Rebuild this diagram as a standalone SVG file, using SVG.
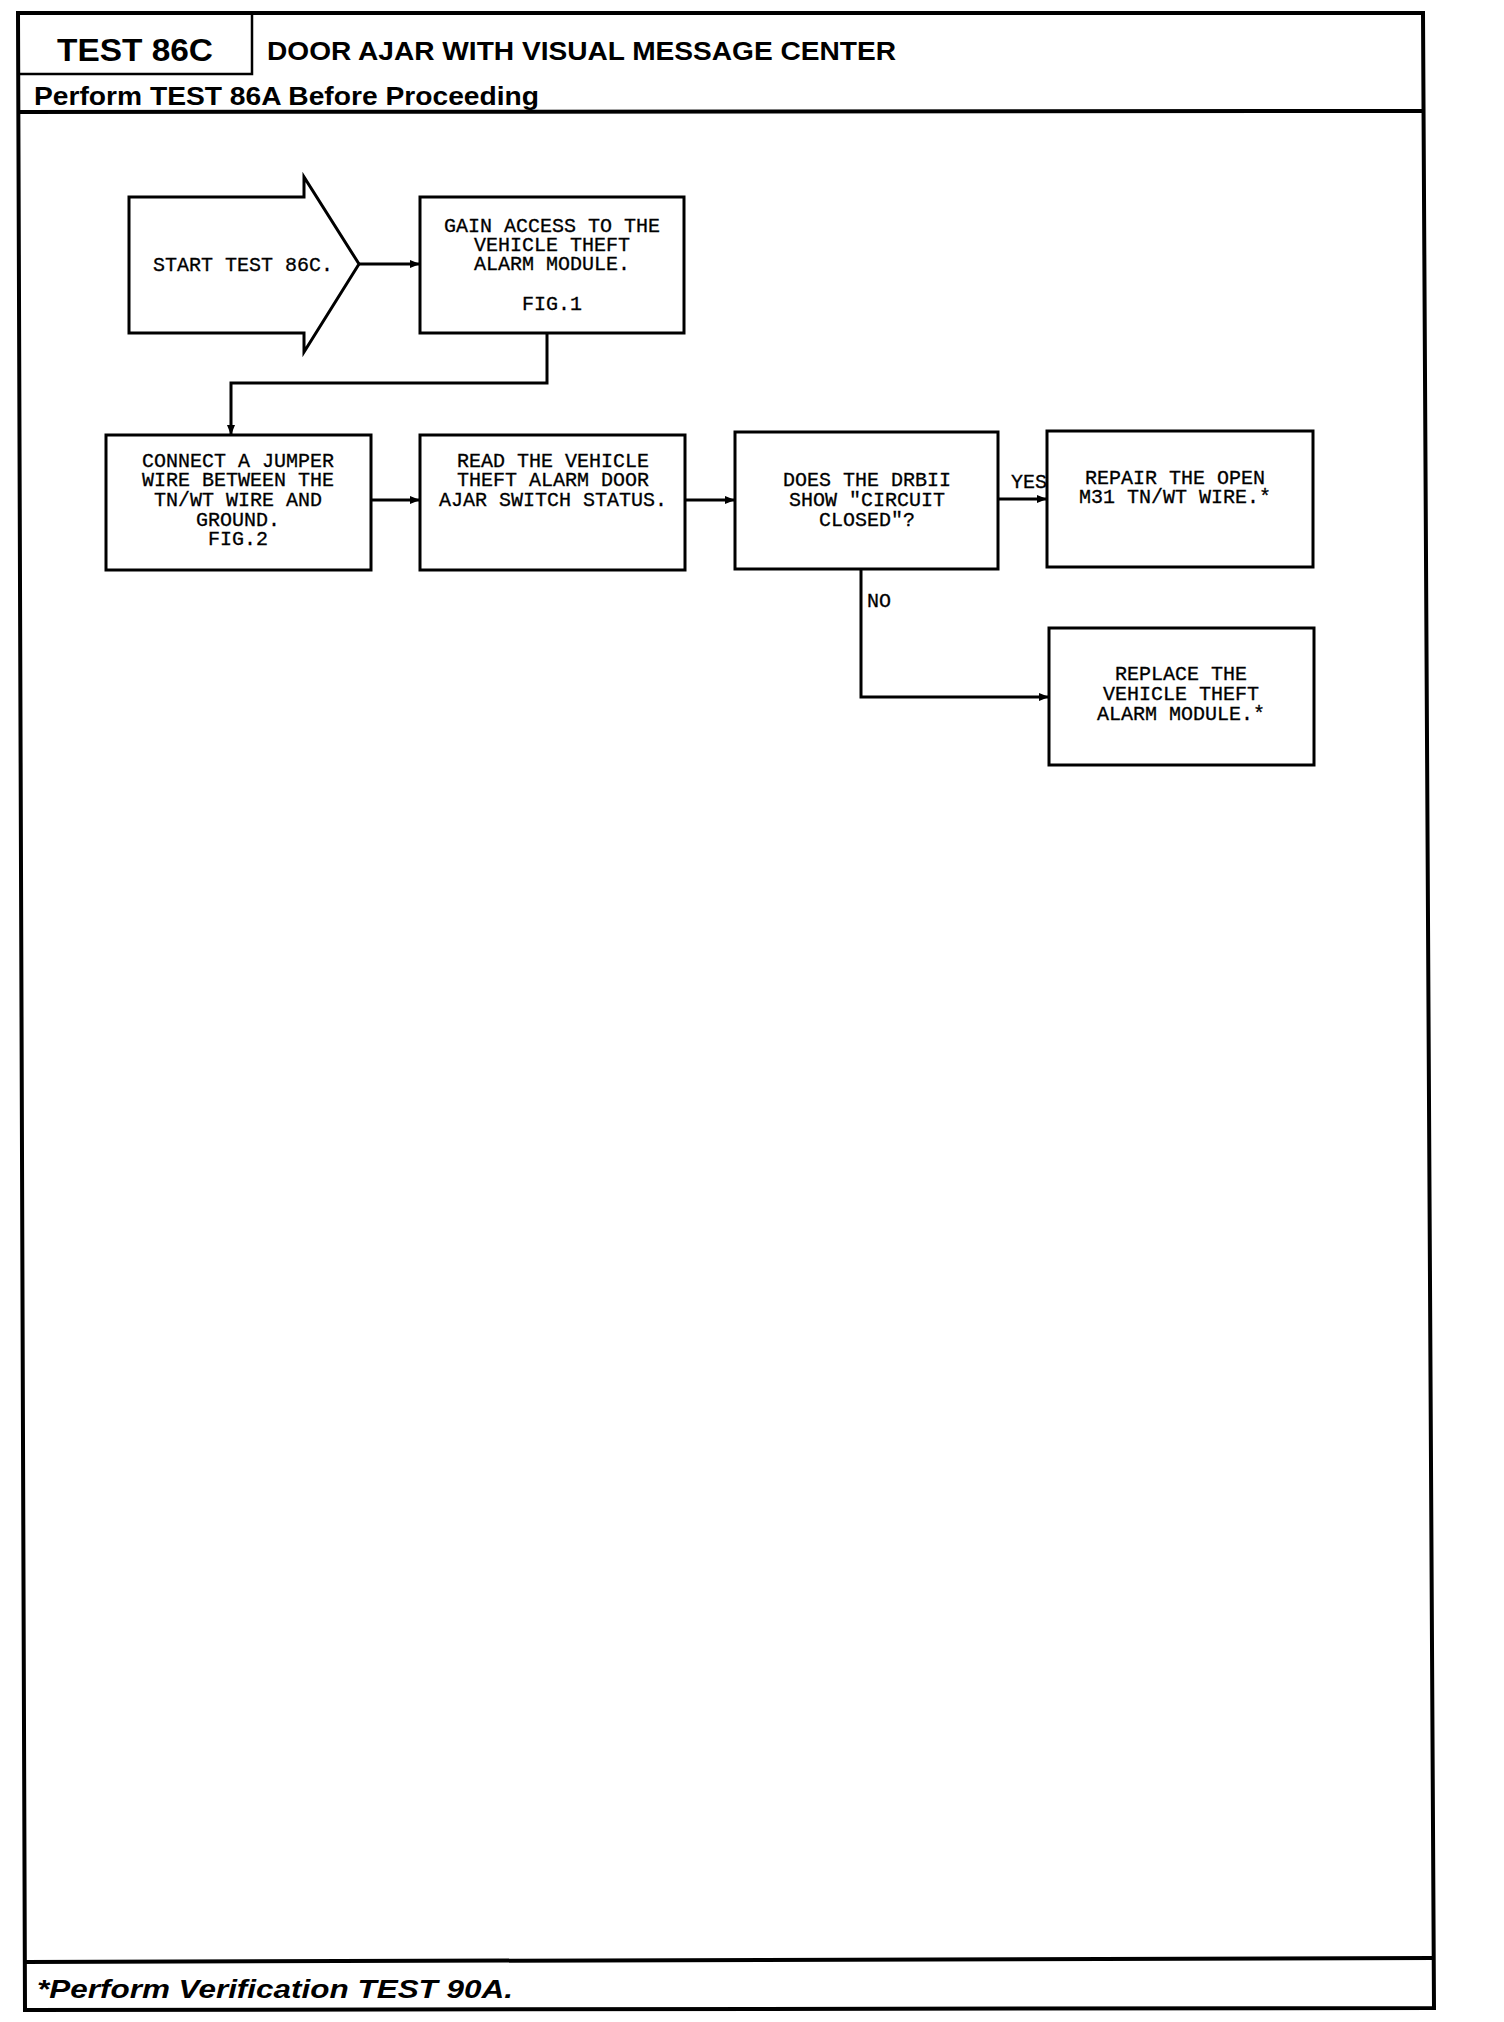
<svg xmlns="http://www.w3.org/2000/svg" width="1504" height="2022" viewBox="0 0 1504 2022">
<style>
.frame{fill:none;stroke:#000;stroke-width:4}
.box{fill:#fff;stroke:#000;stroke-width:3}
.conn{fill:none;stroke:#000;stroke-width:3}
.t{font-family:"Liberation Mono","DejaVu Sans Mono",monospace;font-size:20px;fill:#000;text-anchor:middle;stroke:#000;stroke-width:0.3}
.lbl{font-family:"Liberation Mono","DejaVu Sans Mono",monospace;font-size:20px;fill:#000;stroke:#000;stroke-width:0.3}
.hd{font-family:"Liberation Sans",Arial,sans-serif;font-weight:bold;fill:#000}
</style>
<defs>
<marker id="arr" markerWidth="10" markerHeight="8" refX="10" refY="4" orient="auto" markerUnits="userSpaceOnUse">
<path d="M0,0 L10,4 L0,8 Z" fill="#000"/>
</marker>
</defs>
<rect width="1504" height="2022" fill="#fff"/>
<g id="frame">
<path class="frame" d="M18,13 L1423,13 L1434,2008 L25,2010 Z"/>
<line class="frame" x1="18" y1="112" x2="1424" y2="111"/>
<line class="frame" x1="25" y1="1962" x2="1434" y2="1958"/>
<path class="frame" d="M252,13 L252,74 L18,74" style="stroke-width:2.5"/>
<text class="hd" x="135" y="61" font-size="32" text-anchor="middle" textLength="156" lengthAdjust="spacingAndGlyphs">TEST 86C</text>
<text class="hd" x="267" y="60" font-size="25" textLength="629" lengthAdjust="spacingAndGlyphs">DOOR AJAR WITH VISUAL MESSAGE CENTER</text>
<text class="hd" x="34" y="105" font-size="25" textLength="505" lengthAdjust="spacingAndGlyphs">Perform TEST 86A Before Proceeding</text>
<text class="hd" x="37" y="1998" font-size="26" font-style="italic" textLength="476" lengthAdjust="spacingAndGlyphs">*Perform Verification TEST 90A.</text>
</g>
<g id="connectors">
<line class="conn" x1="359" y1="264" x2="420" y2="264" marker-end="url(#arr)"/>
<polyline class="conn" points="547,333 547,383 231,383 231,435" marker-end="url(#arr)"/>
<line class="conn" x1="371" y1="500" x2="420" y2="500" marker-end="url(#arr)"/>
<line class="conn" x1="685" y1="500" x2="735" y2="500" marker-end="url(#arr)"/>
<line class="conn" x1="998" y1="499" x2="1047" y2="499" marker-end="url(#arr)"/>
<polyline class="conn" points="861,569 861,697 1049,697" marker-end="url(#arr)"/>
<text class="lbl" x="1011" y="488">YES</text>
<text class="lbl" x="867" y="607">NO</text>
</g>
<g id="start">
<path class="box" d="M129,197 L304,197 L304,177 L359,264 L304,352 L304,333 L129,333 Z"/>
<text class="t" x="243" y="271">START TEST 86C.</text>
</g>
<g id="gain">
<rect class="box" x="420" y="197" width="264" height="136"/>
<text class="t" x="552" y="232">GAIN ACCESS TO THE</text>
<text class="t" x="552" y="251">VEHICLE THEFT</text>
<text class="t" x="552" y="270">ALARM MODULE.</text>
<text class="t" x="552" y="310">FIG.1</text>
</g>
<g id="connect">
<rect class="box" x="106" y="435" width="265" height="135"/>
<text class="t" x="238" y="467">CONNECT A JUMPER</text>
<text class="t" x="238" y="486">WIRE BETWEEN THE</text>
<text class="t" x="238" y="506">TN/WT WIRE AND</text>
<text class="t" x="238" y="526">GROUND.</text>
<text class="t" x="238" y="545">FIG.2</text>
</g>
<g id="read">
<rect class="box" x="420" y="435" width="265" height="135"/>
<text class="t" x="553" y="467">READ THE VEHICLE</text>
<text class="t" x="553" y="486">THEFT ALARM DOOR</text>
<text class="t" x="553" y="506">AJAR SWITCH STATUS.</text>
</g>
<g id="does">
<rect class="box" x="735" y="432" width="263" height="137"/>
<text class="t" x="867" y="486">DOES THE DRBII</text>
<text class="t" x="867" y="506">SHOW "CIRCUIT</text>
<text class="t" x="867" y="526">CLOSED"?</text>
</g>
<g id="repair">
<rect class="box" x="1047" y="431" width="266" height="136"/>
<text class="t" x="1175" y="484">REPAIR THE OPEN</text>
<text class="t" x="1175" y="503">M31 TN/WT WIRE.*</text>
</g>
<g id="replace">
<rect class="box" x="1049" y="628" width="265" height="137"/>
<text class="t" x="1181" y="680">REPLACE THE</text>
<text class="t" x="1181" y="700">VEHICLE THEFT</text>
<text class="t" x="1181" y="720">ALARM MODULE.*</text>
</g>
</svg>
